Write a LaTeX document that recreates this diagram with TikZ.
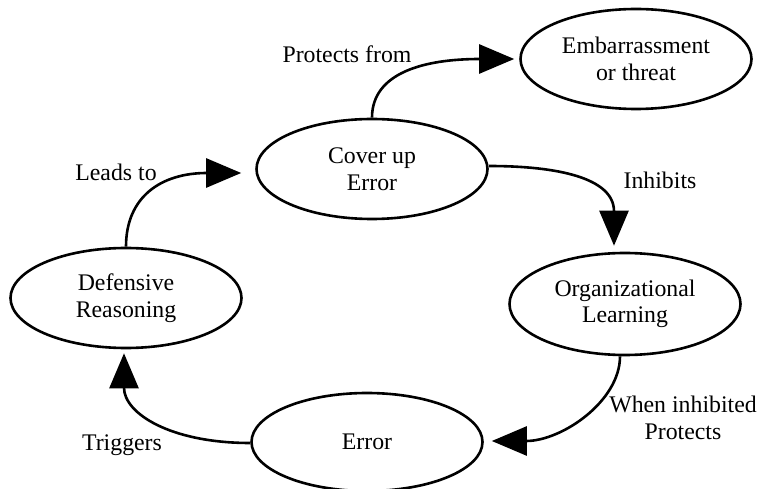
\documentclass[tikz,border=0pt]{standalone}
\usepackage{fontspec}
\setmainfont{Liberation Serif}
\usetikzlibrary{shapes.geometric,arrows.meta}
\begin{document}
\begin{tikzpicture}[x=1pt,y=-1pt,
  every node/.style={font=\fontsize{23.8}{26.5}\selectfont},
  oval/.style={ellipse,draw,line width=2.6pt,inner sep=0pt,align=center,
    minimum width=231pt,minimum height=100pt},
  link/.style={line width=2.6pt,-{Triangle[length=35pt,width=29pt]}},
  lbl/.style={anchor=base,align=center,inner sep=0pt}]
\useasboundingbox (0,0) rectangle (761,489);

% concepts
\node[oval] (emb)   at (636,59)  {Embarrassment\\or threat};
\node[oval] (cover) at (372,169) {Cover up\\Error};
\node[oval,minimum height=102pt] (org) at (625,304) {Organizational\\Learning};
\node[oval] (def)   at (126,298) {Defensive\\Reasoning};
\node[oval,minimum height=98pt] (err) at (367,442) {Error};

% cycle of influences
\draw[link] (cover.north) .. controls +(0,-45) and +(-90,0) .. ([shift={(-5,0)}]emb.west);
\draw[link] ([shift={(0,-3)}]cover.east) .. controls +(68,0) and +(0,-68) .. ([shift={(-11,-6)}]org.north);
\draw[link] ([shift={(-5,0)}]org.south) .. controls +(0,45) and +(70,0) .. ([shift={(8,-1)}]err.east);
\draw[link] ([shift={(0,1)}]err.west) .. controls +(-80,0) and +(0,60) .. ([shift={(-2,4)}]def.south);
\draw[link] (def.north) .. controls +(0,-50) and +(-80,0) .. ([shift={(-14,4)}]cover.west);

% edge labels
\node[lbl] (l1) at (347,63)  {Protects from};
\node[lbl] (l2) at (660,189) {Inhibits};
\node[lbl,anchor=base] (l3) at (683,439) {When inhibited\\Protects};
\node[lbl] (l4) at (122,450) {Triggers};
\node[lbl] (l5) at (116,181) {Leads to};
\end{tikzpicture}
\end{document}
